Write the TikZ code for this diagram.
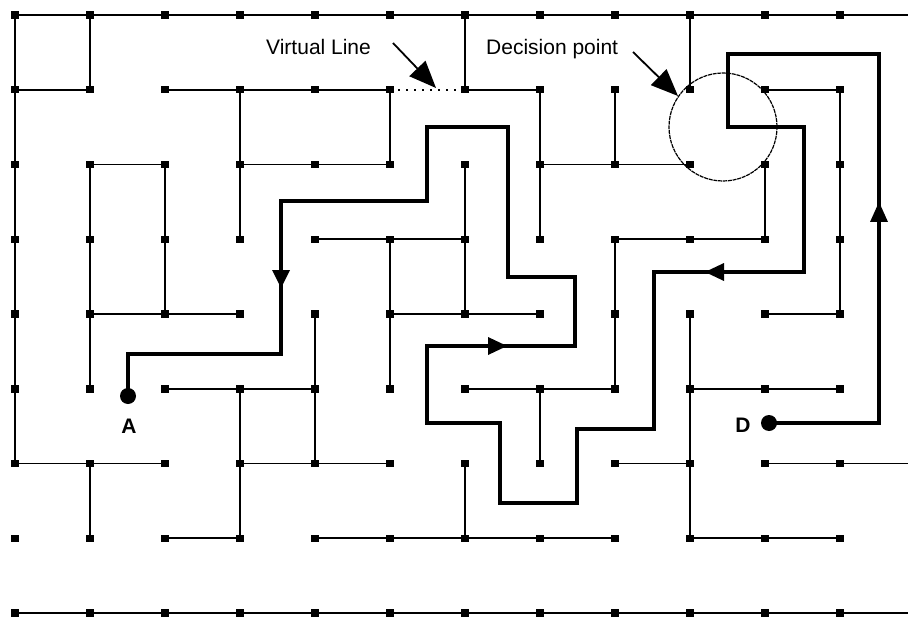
\documentclass[tikz,border=0pt]{standalone}
\usepackage{fontspec}
\setmainfont{Liberation Sans}
\usetikzlibrary{arrows.meta}
\begin{document}
\begin{tikzpicture}[x=1pt,y=-1pt,
  gridpt/.style={rectangle,fill=black,inner sep=0pt,minimum size=7.5pt},
  wall/.style={line width=1.9pt,line cap=butt},
  virtual/.style={line width=1.8pt,dash pattern=on 1.8pt off 6.2pt},
  route/.style={line width=4.5pt,line join=miter},
  flowtip/.style={fill=black},
  endpt/.style={circle,fill=black,inner sep=0pt,minimum size=16pt},
  ptlabel/.style={font=\fontsize{21}{21}\selectfont\bfseries},
  callout/.style={font=\fontsize{21}{21}\selectfont,anchor=base west,inner sep=0pt},
  pointer/.style={line width=1.8pt,-{Triangle[length=27pt,width=22pt]}},
  region/.style={circle,draw,line width=1.2pt,dash pattern=on 4pt off 0.8pt,minimum size=108pt,inner sep=0pt}]
\useasboundingbox (0,0) rectangle (909,620);

% grid points
\foreach \i in {0,...,11}
  \foreach \j in {0,...,8}
    \node[gridpt] (p\i-\j) at ({15+75*\i},{15+74.75*\j}) {};
\coordinate (e0) at (908,15);
\coordinate (e6) at (908,463.5);
\coordinate (e8) at (908,613);

% horizontal walls
\draw[wall] (p0-0.center) -- (e0);
\draw[wall] (p0-1.center) -- (p1-1.center);
\draw[wall] (p2-1.center) -- (p5-1.center);
\draw[virtual] (p5-1.center) -- (p6-1.center);
\draw[wall] (p6-1.center) -- (p7-1.center);
\draw[wall] (p10-1.center) -- (p11-1.center);
\draw[wall] (p1-2.center) -- (p2-2.center);
\draw[wall] (p3-2.center) -- (p5-2.center);
\draw[wall] (p7-2.center) -- (p9-2.center);
\draw[wall] (p4-3.center) -- (p6-3.center);
\draw[wall] (p8-3.center) -- (p10-3.center);
\draw[wall] (p1-4.center) -- (p3-4.center);
\draw[wall] (p5-4.center) -- (p7-4.center);
\draw[wall] (p10-4.center) -- (p11-4.center);
\draw[wall] (p2-5.center) -- (p4-5.center);
\draw[wall] (p6-5.center) -- (p8-5.center);
\draw[wall] (p9-5.center) -- (p11-5.center);
\draw[wall] (p0-6.center) -- (p2-6.center);
\draw[wall] (p3-6.center) -- (p5-6.center);
\draw[wall] (p8-6.center) -- (p9-6.center);
\draw[wall] (p10-6.center) -- (e6);
\draw[wall] (p2-7.center) -- (p3-7.center);
\draw[wall] (p4-7.center) -- (p8-7.center);
\draw[wall] (p9-7.center) -- (p11-7.center);
\draw[wall] (p0-8.center) -- (e8);

% vertical walls
\draw[wall] (p0-0.center) -- (p0-6.center);
\draw[wall] (p1-0.center) -- (p1-1.center);
\draw[wall] (p1-2.center) -- (p1-5.center);
\draw[wall] (p1-6.center) -- (p1-7.center);
\draw[wall] (p2-2.center) -- (p2-4.center);
\draw[wall] (p3-1.center) -- (p3-3.center);
\draw[wall] (p3-5.center) -- (p3-7.center);
\draw[wall] (p4-4.center) -- (p4-6.center);
\draw[wall] (p5-1.center) -- (p5-2.center);
\draw[wall] (p5-3.center) -- (p5-5.center);
\draw[wall] (p6-0.center) -- (p6-1.center);
\draw[wall] (p6-2.center) -- (p6-4.center);
\draw[wall] (p6-6.center) -- (p6-7.center);
\draw[wall] (p7-1.center) -- (p7-3.center);
\draw[wall] (p7-5.center) -- (p7-6.center);
\draw[wall] (p8-1.center) -- (p8-2.center);
\draw[wall] (p8-3.center) -- (p8-5.center);
\draw[wall] (p9-0.center) -- (p9-1.center);
\draw[wall] (p9-4.center) -- (p9-7.center);
\draw[wall] (p10-2.center) -- (p10-3.center);
\draw[wall] (p11-1.center) -- (p11-4.center);

% decision region
\node[region] (dp) at (723,127) {};

% route from D to A
\node[endpt] (D) at (769,423) {};
\node[endpt] (A) at (128,396) {};
\draw[route] (D.center) -- (879,423) -- (879,54) -- (728,54) -- (728,127)
  -- (804,127) -- (804,272) -- (654,272) -- (654,429) -- (577,429)
  -- (577,503) -- (500,503) -- (500,423) -- (427,423) -- (427,346)
  -- (575,346) -- (575,277) -- (508,277) -- (508,127) -- (427,127)
  -- (427,201) -- (281,201) -- (281,354) -- (128,354) -- (A.center);

% direction marks on the route
\fill[flowtip] (281,288) -- (272,270) -- (290,270) -- cycle;
\fill[flowtip] (507,346) -- (488,337) -- (488,355) -- cycle;
\fill[flowtip] (705,272) -- (724,263) -- (724,281) -- cycle;
\fill[flowtip] (879,202) -- (870,222) -- (888,222) -- cycle;

% labels
\node[ptlabel] (la) at (129,426) {A};
\node[ptlabel] (ld) at (743,425) {D};
\node[callout] (vl) at (266,55) {Virtual Line};
\node[callout] (dl) at (486,55) {Decision point};
\coordinate (vs) at (393,43);
\coordinate (ve) at (436,88);
\coordinate (ds) at (633,52);
\coordinate (de) at (678,96);
\draw[pointer] (vs) -- (ve);
\draw[pointer] (ds) -- (de);
\end{tikzpicture}
\end{document}
